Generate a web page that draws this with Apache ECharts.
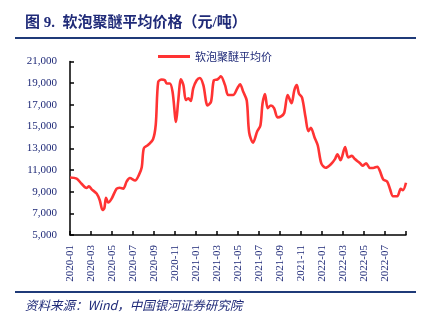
<!DOCTYPE html>
<html>
<head>
<meta charset="utf-8">
<script src="https://cdn.jsdelivr.net/npm/echarts@6/dist/echarts.min.js"></script>
<style>
html,body{margin:0;padding:0;background:#fff;}
#c{width:430px;height:326px;}
</style>
</head>
<body>
<div id="c"></div>
<script>
var titleText = '图 9.  软泡聚醚平均价格（元/吨）';
var sourceText = '资料来源：Wind，中国银河证券研究院';
var seriesName = '软泡聚醚平均价';

var dates = [
'2020-01-01','2020-01-20','2020-02-04','2020-02-18','2020-02-25','2020-03-03','2020-03-17','2020-03-26',
'2020-04-04','2020-04-09','2020-04-14','2020-04-20','2020-04-30','2020-05-14','2020-05-23','2020-06-03',
'2020-06-13','2020-06-22','2020-07-07','2020-07-18','2020-07-26','2020-08-02','2020-08-14','2020-08-28',
'2020-09-06','2020-09-13','2020-09-23','2020-10-02','2020-10-07','2020-10-16','2020-10-24','2020-11-04',
'2020-11-10','2020-11-18','2020-11-25','2020-12-02','2020-12-09','2020-12-16','2020-12-23','2021-01-03',
'2021-01-12','2021-01-22','2021-02-04','2021-02-14','2021-02-22','2021-03-02','2021-03-07','2021-03-12',
'2021-03-24','2021-04-03','2021-04-17','2021-04-29','2021-05-07','2021-05-16','2021-05-26','2021-06-03',
'2021-06-14','2021-06-26','2021-07-05','2021-07-11','2021-07-18','2021-07-26','2021-08-05','2021-08-14',
'2021-08-24','2021-09-04','2021-09-13','2021-09-23','2021-10-04','2021-10-12','2021-10-19','2021-10-25',
'2021-11-04','2021-11-14','2021-11-22','2021-11-29','2021-12-10','2021-12-19','2021-12-29','2022-01-11',
'2022-01-27','2022-02-08','2022-02-15','2022-02-24','2022-03-07','2022-03-16','2022-03-26','2022-04-05',
'2022-04-19','2022-04-27','2022-05-07','2022-05-18','2022-05-27','2022-06-09','2022-06-16','2022-06-26',
'2022-07-07','2022-07-15','2022-07-24','2022-08-06','2022-08-16','2022-08-22','2022-09-01'
];
var prices = [
10300,10200,9730,9340,9480,9210,8820,8210,
7300,7450,8430,8000,8360,9270,9360,9270,
9940,10250,10030,10550,11250,13000,13300,13800,
15180,19120,19340,19270,18970,18970,18210,15430,
17300,19360,18820,17450,17610,17360,18520,19270,
19480,18820,16940,17300,19270,19340,19480,19640,
18820,17910,17910,18520,18900,18210,17400,14430,
13520,14570,15100,17100,18000,16700,16940,16700,
15850,15940,16250,17910,17150,18360,18820,18060,
17660,15850,14570,14880,13970,13250,11600,11200,
11550,12000,12450,11900,13120,12150,12300,12000,
11640,11390,11610,11180,11180,11300,10940,10120,
9940,9270,8570,8570,9270,9120,9820
];
var xTickLabels = ['2020-01','2020-03','2020-05','2020-07','2020-09','2020-11','2021-01','2021-03',
'2021-05','2021-07','2021-09','2021-11','2022-01','2022-03','2022-05','2022-07'];
var yMin = 5000, yMax = 21000, yStep = 2000;

function monthIndex(s){
  var p = s.split('-');
  return (+p[0]-2020)*12 + (+p[1]-1) + (+p[2]-1)/30;
}
var points = dates.map(function(d,i){ return [monthIndex(d), prices[i]]; });

var navy = '#1f2a78';
var chart = echarts.init(document.getElementById('c'), null, {renderer:'canvas'});
chart.setOption({
  animation:false,
  backgroundColor:'#fff',
  grid:{left:70,right:24,top:61.5,bottom:91,containLabel:false},
  legend:{
    data:[{name:seriesName, icon:'rect'}],
    top:46, left:153,
    itemWidth:32, itemHeight:3, itemGap:10,
    textStyle:{color:navy, fontSize:11, fontFamily:'"Noto Sans CJK SC"'}
  },
  xAxis:{
    type:'value', min:0, max:32, interval:2,
    axisLine:{lineStyle:{color:'#000',width:1.5}},
    axisTick:{inside:true,length:4,lineStyle:{color:'#000',width:1.5}},
    splitLine:{show:false},
    axisLabel:{
      rotate:90, margin:10, color:navy, fontSize:11, fontFamily:'"Liberation Serif"',
      showMaxLabel:true,
      formatter:function(v){ var k = Math.round(v/2); return xTickLabels[k] || ''; }
    }
  },
  yAxis:{
    type:'value', min:yMin, max:yMax, interval:yStep,
    axisLine:{show:true,lineStyle:{color:'#000',width:1.5}},
    axisTick:{show:true,inside:true,length:4,lineStyle:{color:'#000',width:1.5}},
    splitLine:{show:false},
    axisLabel:{
      margin:13, color:navy, fontSize:11, fontFamily:'"Liberation Serif"',
      formatter:function(v){ return v.toLocaleString('en-US'); }
    }
  },
  series:[{
    name:seriesName, type:'line', data:points, smooth:0.3, showSymbol:false,
    lineStyle:{color:'#ff3333',width:2.6}, itemStyle:{color:'#ff3333'}
  }],
  graphic:[
    {type:'text', left:25, top:16, style:{text:titleText, fill:navy, font:'bold 15px "Liberation Serif","Noto Sans CJK SC"'}},
    {type:'line', shape:{x1:15,y1:38,x2:416,y2:38}, style:{stroke:'#1f3a78',lineWidth:2}},
    {type:'line', shape:{x1:15,y1:292,x2:416,y2:292}, style:{stroke:'#1f3a78',lineWidth:2}},
    {type:'text', left:25, top:299, style:{text:sourceText, fill:navy, font:'italic 12.5px "Noto Sans CJK SC"'}}
  ]
});
</script>
</body>
</html>
